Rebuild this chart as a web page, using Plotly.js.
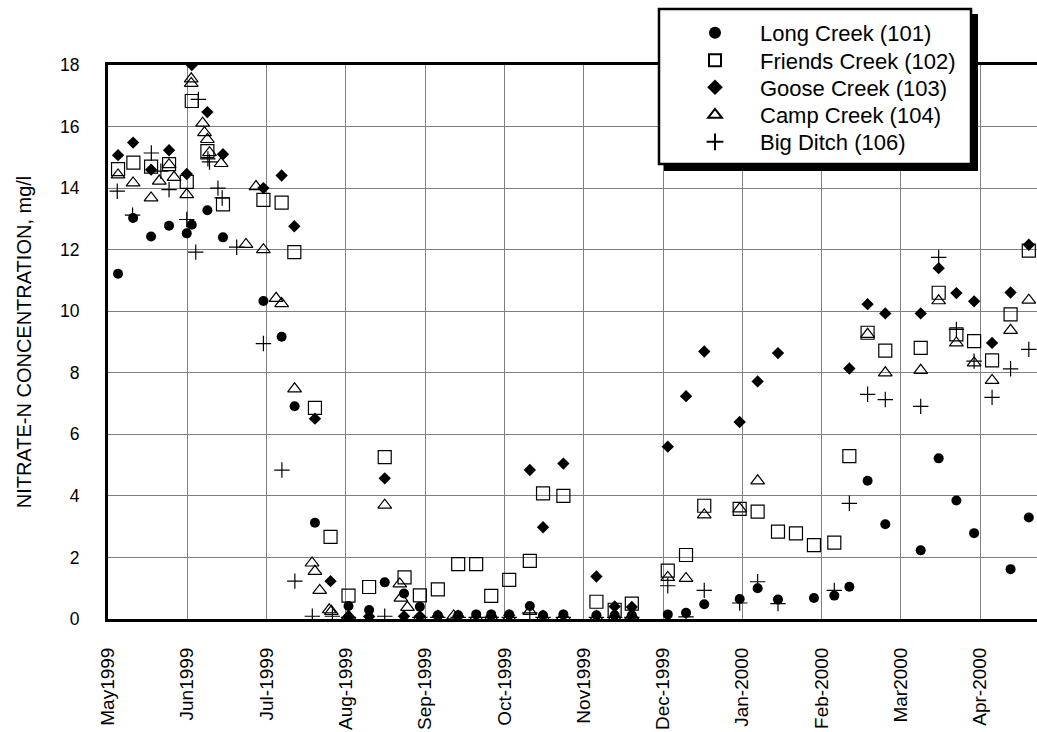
<!DOCTYPE html>
<html>
<head>
<meta charset="utf-8">
<script src="https://cdn.plot.ly/plotly-3.0.1.min.js"></script>
<style>html,body{margin:0;padding:0;background:#fff;overflow:hidden;}#chart{width:1037px;height:732px;}</style>
</head>
<body>
<div id="chart"></div>
<script>
// x positions: days after 1 May 1999 on the chart's uniform 30-day axis
var tickDays = [0, 30, 60, 90, 120, 150, 180, 210, 240, 270, 300, 330];
var tickLabels = ["May1999", "Jun1999", "Jul-1999", "Aug-1999", "Sep-1999", "Oct-1999", "Nov1999", "Dec-1999", "Jan-2000", "Feb-2000", "Mar2000", "Apr-2000"];

var seriesNames = ["Long Creek (101)", "Friends Creek (102)", "Goose Creek (103)", "Camp Creek (104)", "Big Ditch (106)"];

var longDays = [3.8, 9.5, 16.3, 23.1, 29.8, 31.7, 37.6, 43.5, 58.8, 65.7, 70.6, 78.3, 91, 98.8, 104.7, 112, 118, 124.8, 132.5, 139.3, 145, 151.8, 159.6, 164.6, 172.3, 184.8, 191.7, 198.2, 211.8, 218.7, 225.6, 239, 245.8, 253.5, 267.1, 274.8, 280.5, 287.4, 294.1, 307.5, 314.3, 321, 327.7, 341.5, 348.4];
var longVals = [11.22, 13.03, 12.43, 12.78, 12.53, 12.81, 13.28, 12.40, 10.33, 9.17, 6.91, 3.13, 0.42, 0.29, 1.19, 0.83, 0.40, 0.12, 0.12, 0.15, 0.15, 0.15, 0.42, 0.12, 0.15, 0.12, 0.12, 0.12, 0.15, 0.2, 0.48, 0.65, 1.0, 0.63, 0.68, 0.76, 1.05, 4.49, 3.08, 2.23, 5.22, 3.85, 2.79, 1.62, 3.3];

var friendsDays = [3.8, 9.6, 16.3, 23.1, 29.8, 31.7, 37.6, 43.5, 58.8, 65.7, 70.5, 78.3, 84.2, 91, 98.8, 104.7, 112.2, 118, 124.8, 132.5, 139.3, 145, 151.8, 159.6, 164.6, 172.3, 184.8, 191.7, 198.2, 211.8, 218.7, 225.6, 239, 245.8, 253.5, 260.3, 267.1, 274.8, 280.5, 287.4, 294.1, 307.5, 314.3, 321, 327.7, 334.5, 341.5, 348.4];
var friendsVals = [14.62, 14.83, 14.7, 14.78, 14.2, 16.83, 15.2, 13.47, 13.62, 13.53, 11.92, 6.86, 2.67, 0.76, 1.04, 5.26, 1.35, 0.77, 0.96, 1.78, 1.78, 0.75, 1.27, 1.89, 4.08, 4.0, 0.56, 0.3, 0.5, 1.57, 2.08, 3.68, 3.58, 3.49, 2.84, 2.78, 2.40, 2.48, 5.29, 9.3, 8.72, 8.81, 10.6, 9.25, 9.03, 8.40, 9.90, 11.97];

var gooseDays = [3.8, 9.5, 16.3, 23.1, 29.8, 31.7, 37.6, 43.5, 58.8, 65.7, 70.5, 78.3, 84.2, 91, 98.8, 104.7, 112, 118, 124.8, 132.5, 145, 151.8, 159.6, 164.6, 172.3, 184.8, 191.7, 198.2, 211.8, 218.7, 225.6, 239, 245.8, 253.5, 280.5, 287.4, 294.1, 307.5, 314.3, 321, 327.7, 334.5, 341.5, 348.4];
var gooseVals = [15.07, 15.48, 14.6, 15.23, 14.46, 18.0, 16.47, 15.1, 14.0, 14.41, 12.76, 6.51, 1.23, 0.08, 0.08, 4.57, 0.09, 0.09, 0.09, 0.09, 0.09, 0.12, 4.84, 2.98, 5.05, 1.38, 0.41, 0.39, 5.6, 7.24, 8.69, 6.4, 7.72, 8.64, 8.14, 10.23, 9.93, 9.93, 11.4, 10.59, 10.32, 8.97, 10.61, 12.16];

var campDays = [3.8, 9.5, 16.3, 19.4, 23.1, 25, 29.8, 31.5, 31.5, 35.8, 36.5, 37.6, 38.4, 42.8, 52.2, 56, 58.8, 63.6, 65.7, 70.6, 77.2, 78.3, 80.1, 83.7, 84.5, 91, 104.7, 110.4, 110.8, 113.3, 118, 130.8, 139.3, 145, 151.8, 159.6, 164.6, 172.3, 184.8, 191.7, 198.2, 211.8, 218.7, 225.6, 239, 245.8, 287.4, 294.1, 307.5, 314.3, 321, 327.7, 334.5, 341.5, 348.4];
var campVals = [14.43, 14.17, 13.68, 14.23, 14.76, 14.35, 13.79, 17.55, 17.4, 16.11, 15.8, 15.58, 15.15, 14.8, 12.17, 14.05, 12.0, 10.42, 10.25, 7.48, 1.82, 1.55, 0.93, 0.3, 0.25, 0.1, 3.7, 1.14, 0.68, 0.38, 0.05, 0.1, 0.05, 0.05, 0.05, 0.25, 0.05, 0.08, 0.05, 0.05, 0.1, 1.35, 1.32, 3.38, 3.58, 4.49, 9.25, 8.0, 8.08, 10.34, 8.97, 8.32, 7.75, 9.38, 10.36];

var ditchDays = [3.5, 9.3, 16.4, 20, 23.1, 29.8, 33.2, 34.2, 37.8, 38.4, 41.6, 43.2, 48.7, 58.8, 65.8, 70.7, 77.3, 84.9, 91, 104.7, 118, 124.8, 132.5, 139.3, 145, 151.8, 159.6, 164.6, 172.3, 184.8, 191.7, 198.2, 211.8, 218.7, 225.6, 239, 245.8, 253.5, 274.8, 280.5, 287.4, 294.1, 307.5, 314.3, 321, 327.7, 334.5, 341.5, 348.4];
var ditchVals = [13.9, 13.12, 15.14, 14.55, 13.95, 12.98, 11.92, 16.88, 14.95, 14.85, 14.0, 13.68, 12.08, 8.95, 4.84, 1.23, 0.09, 0.09, 0.05, 0.09, 0.05, 0.05, 0.05, 0.05, 0.05, 0.05, 0.2, 0.05, 0.05, 0.05, 0.05, 0.05, 1.08, 0.07, 0.93, 0.52, 1.21, 0.5, 0.93, 3.76, 7.3, 7.13, 6.91, 11.75, 9.41, 8.38, 7.2, 8.13, 8.76];

var FONT = "Arial, 'Liberation Sans', sans-serif";

var traces = [
  {x: longDays, y: longVals, name: seriesNames[0], legend: "legend",
   marker: {symbol: "circle", size: 10, color: "#000"}},
  {x: friendsDays, y: friendsVals, name: seriesNames[1], legend: "legend2",
   marker: {symbol: "square-open", size: 13, color: "#000", line: {width: 1.2, color: "#000"}}},
  {x: gooseDays, y: gooseVals, name: seriesNames[2], legend: "legend3",
   marker: {symbol: "diamond", size: 9.5, color: "#000"}},
  {x: campDays, y: campVals, name: seriesNames[3], legend: "legend4",
   marker: {symbol: "triangle-up-open", size: 12, color: "#000", line: {width: 1.2, color: "#000"}}},
  {x: ditchDays, y: ditchVals, name: seriesNames[4], legend: "legend5",
   marker: {symbol: "cross-thin-open", size: 11, color: "#000", line: {width: 1.2, color: "#000"}}}
];
traces.forEach(function (t) { t.type = "scatter"; t.mode = "markers"; t.showlegend = true; });

// plot area in pixels: left 108, right 1037, top 65, bottom 619
function px2paperX(p) { return (p - 108) / 929; }
function px2paperY(p) { return (619 - p) / 554; }

function legendAt(rowY) {
  return {
    x: px2paperX(670), y: px2paperY(rowY), xanchor: "left", yanchor: "middle",
    bgcolor: "rgba(0,0,0,0)", borderwidth: 0, font: {size: 22, family: FONT},
    itemwidth: 80, itemsizing: "constant"
  };
}

var layout = {
  width: 1037, height: 732,
  margin: {l: 108, r: 0, t: 65, b: 113, pad: 0},
  paper_bgcolor: "#fff", plot_bgcolor: "#fff",
  font: {family: FONT, color: "#000"},
  showlegend: true,
  xaxis: {
    range: [0, 351.5], tickmode: "array", tickvals: tickDays, ticktext: tickLabels,
    tickangle: -90, tickfont: {size: 19, family: FONT}, ticks: "", ticklabelstandoff: 18,
    showgrid: true, gridcolor: "#7f7f7f", gridwidth: 1, zeroline: false,
    showline: true, linecolor: "#000", linewidth: 3, mirror: true
  },
  yaxis: {
    range: [0, 18], tickvals: [0, 2, 4, 6, 8, 10, 12, 14, 16, 18],
    tickfont: {size: 17.5, family: FONT}, ticks: "", ticklabelstandoff: 22,
    showgrid: true, gridcolor: "#7f7f7f", gridwidth: 1, zeroline: false,
    showline: true, linecolor: "#000", linewidth: 3,
    title: {text: "NITRATE-N CONCENTRATION, mg/l", font: {size: 20, family: FONT}, standoff: 24}
  },
  legend: legendAt(33),
  legend2: legendAt(60.5),
  legend3: legendAt(87.5),
  legend4: legendAt(115),
  legend5: legendAt(142),
  shapes: [
    {type: "rect", xref: "paper", yref: "paper", layer: "above",
     x0: px2paperX(664), x1: px2paperX(978), y0: px2paperY(171), y1: px2paperY(14),
     fillcolor: "#000", line: {width: 0}},
    {type: "rect", xref: "paper", yref: "paper", layer: "above",
     x0: px2paperX(659), x1: px2paperX(971), y0: px2paperY(164), y1: px2paperY(9),
     fillcolor: "#fff", line: {width: 2.5, color: "#000"}}
  ]
};

Plotly.newPlot("chart", traces, layout, {displayModeBar: false, staticPlot: true});
</script>
</body>
</html>
